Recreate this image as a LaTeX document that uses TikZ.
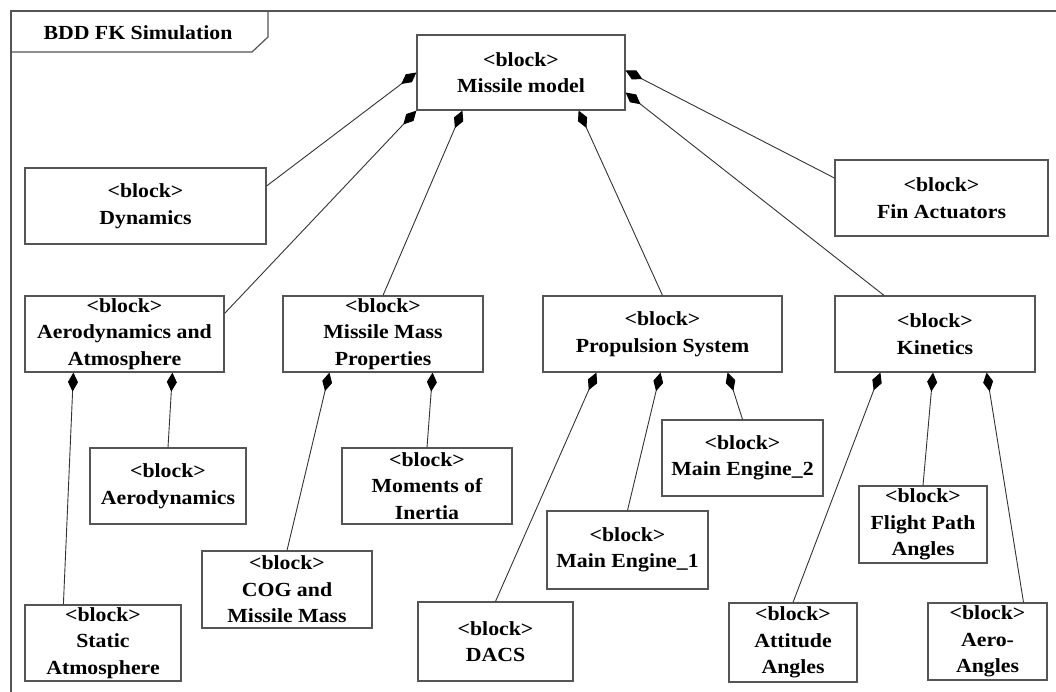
\documentclass[tikz,border=0pt]{standalone}
\usepackage{fontspec}
\setmainfont{Liberation Serif}[FakeStretch=1.09]
\usetikzlibrary{arrows.meta}
\definecolor{boxgray}{HTML}{555555}
\definecolor{linegray}{HTML}{333333}
\tikzset{
  block/.style={draw=boxgray, fill=white, line width=1.2pt, align=center, inner sep=0pt,
    font=\fontsize{20}{26.5}\selectfont\bfseries},
  comp/.style={draw=linegray, line width=0.9pt, {Diamond[length=19pt,width=10pt,color=black]}-}
}
\begin{document}
\begin{tikzpicture}[x=1pt, y=-1pt]
    \clip (0,0) rectangle (1056,691);

    % frame and title tab
    \draw[boxgray, line width=1.2pt] (1070,11) -- (11,11) -- (11,705);
    \draw[boxgray, line width=1.2pt] (11,52) -- (252,52) -- (268,37) -- (268,11);
    \node[font=\fontsize{20}{24}\selectfont\bfseries, anchor=base] (title) at (138,39) {BDD FK Simulation};

    % blocks
    \node[block, minimum width=208pt, minimum height=75pt] (model) at (521,72.5) {<block>\\Missile model};
    \node[block, minimum width=241pt, minimum height=76pt] (dyn) at (145.5,206) {<block>\\Dynamics};
    \node[block, minimum width=213pt, minimum height=76pt] (fin) at (941.5,198) {<block>\\Fin Actuators};

    \node[block, minimum width=199pt, minimum height=76pt] (aeroatm) at (124.5,334) {<block>\\Aerodynamics and\\Atmosphere};
    \node[block, minimum width=200pt, minimum height=76pt] (mass) at (383,334) {<block>\\Missile Mass\\Properties};
    \node[block, minimum width=239pt, minimum height=76pt] (prop) at (662.5,334) {<block>\\Propulsion System};
    \node[block, minimum width=200pt, minimum height=76pt] (kin) at (935,334) {<block>\\Kinetics};

    \node[block, minimum width=156pt, minimum height=76pt] (aero) at (168,486) {<block>\\Aerodynamics};
    \node[block, minimum width=156pt, minimum height=76pt] (statatm) at (103,643) {<block>\\Static\\Atmosphere};
    \node[block, minimum width=170pt, minimum height=76pt] (moi) at (427,486) {<block>\\Moments of\\Inertia};
    \node[block, minimum width=170pt, minimum height=77pt] (cog) at (287,589.5) {<block>\\COG and\\Missile Mass};

    \node[block, minimum width=155pt, minimum height=79pt] (dacs) at (495.5,641.5) {<block>\\DACS};
    \node[block, minimum width=161pt, minimum height=78pt] (eng1) at (627.5,550) {<block>\\Main Engine\_1};
    \node[block, minimum width=161pt, minimum height=76pt] (eng2) at (742.5,458) {<block>\\Main Engine\_2};

    \node[block, minimum width=128pt, minimum height=79pt] (att) at (793,642.5) {<block>\\Attitude\\Angles};
    \node[block, minimum width=128pt, minimum height=77pt] (fpa) at (923,524.5) {<block>\\Flight Path\\Angles};
    \node[block, minimum width=119pt, minimum height=77pt] (aeroang) at (987.5,641.5) {<block>\\Aero-\\Angles};

    % compositions from the missile model
    \draw[comp] (model.west) -- ([yshift=20pt]dyn.east);
    \draw[comp] (model.south west) -- ([yshift=-18pt]aeroatm.north east);
    \draw[comp] ([xshift=46pt]model.south west) -- (mass.north);
    \draw[comp] ([xshift=-47pt]model.south east) -- (prop.north);
    \draw[comp] ([yshift=2pt]model.east) -- ([yshift=20pt]fin.west);
    \draw[comp] ([yshift=-20pt]model.east) -- ([xshift=-51pt]kin.north);

    % compositions of the sub-blocks
    \draw[comp] ([xshift=49pt]aeroatm.south west) -- ([xshift=39pt]statatm.north west);
    \draw[comp] ([xshift=148pt]aeroatm.south west) -- (aero.north);
    \draw[comp] ([xshift=47pt]mass.south west) -- (cog.north);
    \draw[comp] ([xshift=-51pt]mass.south east) -- (moi.north);
    \draw[comp] ([xshift=54pt]prop.south west) -- (dacs.north);
    \draw[comp] ([xshift=-2pt]prop.south) -- (eng1.north);
    \draw[comp] ([xshift=-55pt]prop.south east) -- (eng2.north);
    \draw[comp] ([xshift=46pt]kin.south west) -- (att.north);
    \draw[comp] ([xshift=-2pt]kin.south) -- (fpa.north);
    \draw[comp] ([xshift=-49pt]kin.south east) -- ([xshift=36pt]aeroang.north);
\end{tikzpicture}
\end{document}
